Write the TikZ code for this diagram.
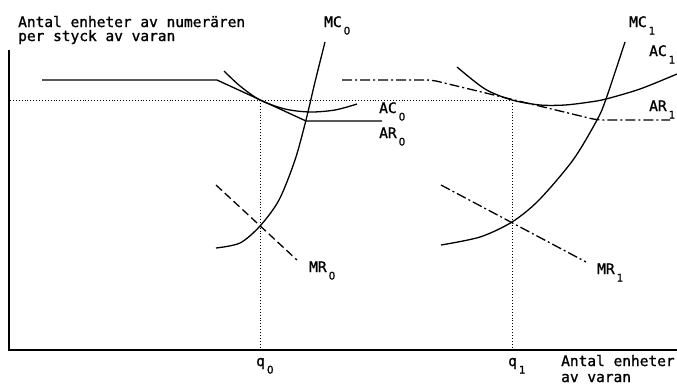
\documentclass[tikz,border=0pt]{standalone}
\usepackage{fontspec}
\setmainfont{DejaVu Sans Mono}[FakeBold=1.2]
\newfontfamily\subfont{DejaVu Sans}[FakeBold=1.2]
\usetikzlibrary{positioning}
\newcommand{\sublbl}[2]{#1\kern2pt\raisebox{-7.5pt}{\subfont\fontsize{10.5}{10.5}\selectfont #2}}

\begin{document}
\begin{tikzpicture}[
  x=1pt, y=-1pt, font=\fontsize{14.5}{14.5}\selectfont,
  curve/.style={line width=1.3pt},
  axis/.style={line width=1.5pt},
  guide/.style={line width=0.9pt, dotted},
  mrdash/.style={line width=1.3pt, dash pattern=on 8pt off 4pt},
  dashdot/.style={line width=1.3pt, dash pattern=on 10pt off 3pt on 2pt off 3pt},
  lbl/.style={anchor=base west, inner sep=0pt},
]
\useasboundingbox (0,0) rectangle (677,384);

% axes
\coordinate (o) at (9,350);
\coordinate (ytop) at (9,50);
\coordinate (xend) at (677,350);
\draw[axis] (ytop) -- (o) -- (xend);

% equilibrium points
\coordinate (t0) at (260,100);
\coordinate (t1) at (512,100);
\coordinate (e0) at (260,226);
\coordinate (e1) at (512,222);

% dotted guides
\draw[guide] (10,100) -- (t1);
\draw[guide] (t0) -- (t0 |- o);
\draw[guide] (t1) -- (t1 |- o);

% firm 0
\draw[curve] (42,80) -- (217,80) -- (306,121) -- (382,121);
\draw[curve] plot[smooth] coordinates {(224,71) (240,86) (t0) (285,109) (310,112) (335,110) (357,104)};
\draw[curve] plot[smooth] coordinates {(216,248) (240,243) (e0) (279,200) (295,160) (306,120) (315,82) (325,42)};
\draw[mrdash] (216,185) -- (297,260);

% firm 1
\draw[dashdot, rounded corners=6pt] (342,80) -- (432,80) -- (597,120) -- (670,120);
\draw[curve] plot[smooth] coordinates {(457,67) (485,89) (t1) (540,105) (565,105) (590,102) (606,99) (640,89) (677,74)};
\draw[curve] plot[smooth] coordinates {(441,245) (480,237) (e1) (539,200) (573,160) (597,120) (606,99) (625,42)};
\draw[dashdot] (441,185) -- (586,262);

% labels
\node[lbl] (ylab1) at (18,27) {Antal enheter av numerären};
\node[lbl] (ylab2) at (18,41) {per styck av varan};
\node[lbl] (xlab1) at (561,366) {Antal enheter};
\node[lbl] (xlab2) at (561,382) {av varan};

\node[lbl] (mc0) at (324,27)  {\sublbl{MC}{0}};
\node[lbl] (ac0) at (379,113) {\sublbl{AC}{0}};
\node[lbl] (ar0) at (379,138) {\sublbl{AR}{0}};
\node[lbl] (mr0) at (309,272) {\sublbl{MR}{0}};
\node[lbl] (mc1) at (629,27)  {\sublbl{MC}{1}};
\node[lbl] (ac1) at (649,56)  {\sublbl{AC}{1}};
\node[lbl] (ar1) at (649,111) {\sublbl{AR}{1}};
\node[lbl] (mr1) at (597,274) {\sublbl{MR}{1}};
\node[lbl] (q0)  at (256,366) {\sublbl{q}{0}};
\node[lbl] (q1)  at (508,366) {\sublbl{q}{1}};
\end{tikzpicture}
\end{document}
